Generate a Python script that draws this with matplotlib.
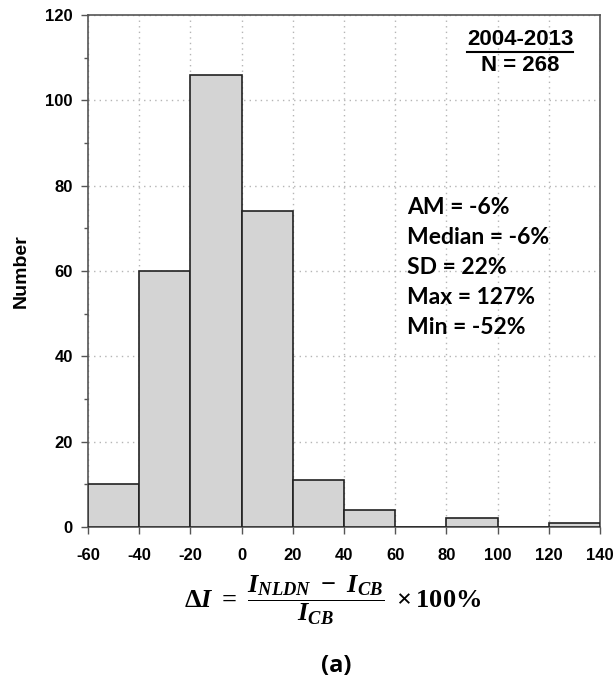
import numpy as np
import matplotlib
matplotlib.use("Agg")
import matplotlib.pyplot as plt
from matplotlib.ticker import MultipleLocator

# histogram data (bin edges in %, counts per bin)
bin_edges = [-60, -40, -20, 0, 20, 40, 60, 80, 100, 120, 140]
counts = [10, 60, 106, 74, 11, 4, 0, 2, 0, 1]
period = "2004-2013"
n_total = 268
stats_lines = ["AM = -6%", "Median = -6%", "SD = 22%", "Max = 127%", "Min = -52%"]

plt.rcParams["font.family"] = "Liberation Sans"
plt.rcParams["axes.unicode_minus"] = False
plt.rcParams["mathtext.fontset"] = "custom"
plt.rcParams["mathtext.rm"] = "Liberation Serif:bold"
plt.rcParams["mathtext.it"] = "Liberation Serif:bold:italic"
plt.rcParams["mathtext.bf"] = "Liberation Serif:bold"

fig = plt.figure(figsize=(6.13, 6.86), dpi=100)
ax = fig.add_axes([88 / 613, 1 - 527 / 686, 512 / 613, 512 / 686])

edges = np.array(bin_edges)
ax.bar(edges[:-1], counts, width=np.diff(edges), align="edge",
       color="#d4d4d4", edgecolor="#222222", linewidth=1.2, zorder=3)

ax.set_xlim(-60, 140)
ax.set_ylim(0, 120)
ax.xaxis.set_major_locator(MultipleLocator(20))
ax.yaxis.set_major_locator(MultipleLocator(20))
ax.yaxis.set_minor_locator(MultipleLocator(10))
ax.grid(True, which="major", linestyle=(0, (1, 3)), color="#b5b5b5", linewidth=1.0, zorder=0)
ax.tick_params(axis="both", which="major", direction="out", length=5,
               width=1, labelsize=12, color="#555555", pad=6)
ax.tick_params(axis="x", which="major", pad=10)
ax.tick_params(axis="y", which="minor", direction="out", length=3, width=1, color="#555555")
for lab in ax.get_xticklabels() + ax.get_yticklabels():
    lab.set_fontweight("bold")
for s in ax.spines.values():
    s.set_color("#555555")
    s.set_linewidth(1.2)

ax.set_ylabel("Number", fontsize=14, fontweight="bold", labelpad=11)

# top right header with underline
ax.text(0.844, 0.973, period, transform=ax.transAxes, ha="center", va="top",
        fontsize=16, fontweight="bold")
ax.plot([0.740, 0.948], [0.928, 0.928], transform=ax.transAxes, color="black",
        linewidth=1.5, zorder=5)
ax.text(0.844, 0.921, f"N = {n_total}", transform=ax.transAxes, ha="center", va="top",
        fontsize=16, fontweight="bold")

# summary statistics
for i, line in enumerate(stats_lines):
    ax.text(0.623, 0.625 - i * 0.0586, line, transform=ax.transAxes, ha="left",
            va="center", fontsize=16.5, fontweight="bold", family="Lato")

fig.text(333 / 613, 1 - 600 / 686,
         r"$\Delta I\ =\ \dfrac{I_{NLDN}\ -\ I_{CB}}{I_{CB}}\ \times \mathbf{100\%}$",
         ha="center", va="center", fontsize=19)
fig.text(336 / 613, 1 - 666 / 686, "(a)", ha="center", va="center",
         fontsize=17, fontweight="bold", family="Open Sans")

fig.savefig("out.png", dpi=100)
